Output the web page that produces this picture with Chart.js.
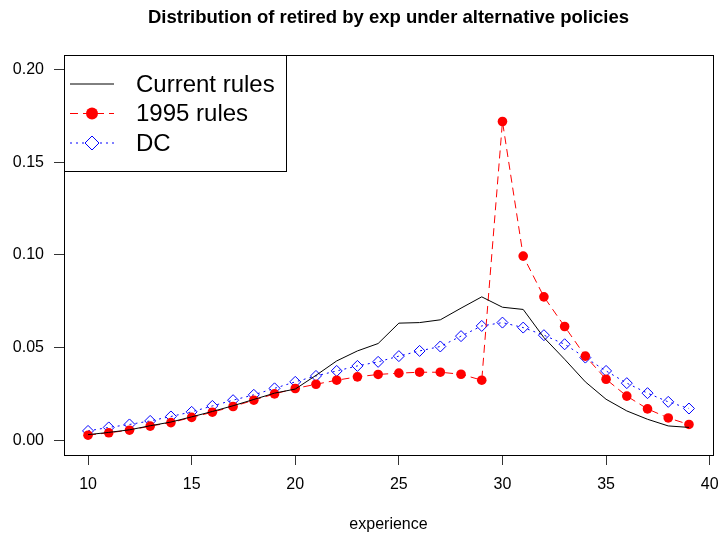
<!DOCTYPE html>
<html>
<head>
<meta charset="utf-8">
<title>Distribution of retired by exp under alternative policies</title>
<script src="https://cdn.jsdelivr.net/npm/chart.js@4.4.0/dist/chart.umd.min.js"></script>
<style>
  html, body { margin: 0; padding: 0; background: #fff; }
  canvas { display: block; }
</style>
</head>
<body>
<canvas id="chart" width="721" height="535"></canvas>
<script>
// values
const experience = [10, 11, 12, 13, 14, 15, 16, 17, 18, 19, 20, 21, 22, 23, 24,
                    25, 26, 27, 28, 29, 30, 31, 32, 33, 34, 35, 36, 37, 38, 39];
const currentRules = [0.0030, 0.0042, 0.0056, 0.0078, 0.0098, 0.0126, 0.0155, 0.0186, 0.0220, 0.0254,
                      0.0276, 0.0350, 0.0428, 0.0482, 0.0522, 0.0632, 0.0635, 0.0650, 0.0713, 0.0774,
                      0.0718, 0.0706, 0.0554, 0.0437, 0.0315, 0.0221, 0.0158, 0.0113, 0.0077, 0.0069];
const rules1995 = [0.0027, 0.0040, 0.0054, 0.0076, 0.0095, 0.0123, 0.0151, 0.0182, 0.0216, 0.0250,
                   0.0279, 0.0302, 0.0324, 0.0342, 0.0355, 0.0362, 0.0367, 0.0367, 0.0356, 0.0324,
                   0.1721, 0.0994, 0.0774, 0.0614, 0.0454, 0.0329, 0.0238, 0.0169, 0.0120, 0.0085];
const dcRules = [0.0050, 0.0069, 0.0085, 0.0104, 0.0128, 0.0153, 0.0185, 0.0216, 0.0245, 0.0280,
                 0.0315, 0.0347, 0.0374, 0.0401, 0.0423, 0.0454, 0.0482, 0.0506, 0.0562, 0.0617,
                 0.0635, 0.0608, 0.0567, 0.0518, 0.0446, 0.0374, 0.0308, 0.0254, 0.0207, 0.0171];
const xTicks = [10, 15, 20, 25, 30, 35, 40];
const yTicks = [0, 0.05, 0.10, 0.15, 0.20];
const seriesNames = ['Current rules', '1995 rules', 'DC'];
const chartTitle = 'Distribution of retired by exp under alternative policies';

const FONT = "'Liberation Sans', Arial, Helvetica, sans-serif";
Chart.defaults.font.family = FONT;
Chart.defaults.color = '#000';

function toPoints(values) {
    return values.map((v, i) => ({ x: experience[i], y: v }));
}

// R style: box round the plot, title on top, legend in the top left corner
const rPlotPlugin = {
    id: 'rPlot',
    afterDraw(chart) {
        const { ctx, chartArea } = chart;
        ctx.save();
        ctx.strokeStyle = '#000';
        ctx.lineWidth = 1;
        ctx.strokeRect(Math.round(chartArea.left) + 0.5, Math.round(chartArea.top) + 0.5,
            Math.round(chartArea.right - chartArea.left), Math.round(chartArea.bottom - chartArea.top));

        // title
        ctx.fillStyle = '#000';
        ctx.font = 'bold 18.5px ' + FONT;
        ctx.textAlign = 'center';
        ctx.textBaseline = 'middle';
        ctx.fillText(chartTitle, (chartArea.left + chartArea.right) / 2, 18);

        // legend box
        const lx = Math.round(chartArea.left) + 0.5, ly = Math.round(chartArea.top) + 0.5;
        const lw = 222, lh = 116;
        ctx.fillStyle = '#fff';
        ctx.fillRect(lx, ly, lw, lh);
        ctx.strokeRect(lx, ly, lw, lh);

        const rows = [84, 113.5, 143];
        chart.data.datasets.forEach((ds, i) => {
            const y = rows[i];
            ctx.save();
            ctx.strokeStyle = ds.borderColor;
            ctx.lineWidth = 1;
            ctx.setLineDash(ds.borderDash || []);
            ctx.beginPath();
            ctx.moveTo(70, y);
            ctx.lineTo(114, y);
            ctx.stroke();
            ctx.restore();
            if (ds.pointStyle === 'circle') {
                ctx.fillStyle = ds.pointBackgroundColor;
                ctx.beginPath();
                ctx.arc(92, y, 6, 0, Math.PI * 2);
                ctx.fill();
            } else if (ds.pointStyle === 'rectRot') {
                ctx.fillStyle = '#fff';
                ctx.strokeStyle = ds.pointBorderColor;
                ctx.beginPath();
                ctx.moveTo(92, y - 7);
                ctx.lineTo(99, y);
                ctx.lineTo(92, y + 7);
                ctx.lineTo(85, y);
                ctx.closePath();
                ctx.fill();
                ctx.stroke();
            }
            ctx.fillStyle = '#000';
            ctx.font = '24px ' + FONT;
            ctx.textAlign = 'left';
            ctx.textBaseline = 'middle';
            ctx.fillText(seriesNames[i], 136, y + 1);
        });
        ctx.restore();
    }
};

new Chart(document.getElementById('chart'), {
    type: 'line',
    data: {
        datasets: [
            {
                label: seriesNames[0],
                data: toPoints(currentRules),
                borderColor: '#000',
                borderWidth: 1,
                pointRadius: 0,
                tension: 0
            },
            {
                label: seriesNames[1],
                data: toPoints(rules1995),
                borderColor: '#ff0000',
                borderWidth: 1,
                borderDash: [8, 5],
                pointStyle: 'circle',
                pointRadius: 4.8,
                pointBackgroundColor: '#ff0000',
                pointBorderWidth: 0,
                tension: 0
            },
            {
                label: seriesNames[2],
                data: toPoints(dcRules),
                borderColor: '#0000ff',
                borderWidth: 1,
                borderDash: [2, 4],
                pointStyle: 'rectRot',
                pointRadius: 5.5,
                pointBackgroundColor: 'rgba(255,255,255,0)',
                pointBorderColor: '#0000ff',
                pointBorderWidth: 1,
                tension: 0
            }
        ]
    },
    options: {
        responsive: false,
        animation: false,
        layout: {
            padding: { top: 55, right: 8, left: 0, bottom: 0 }
        },
        plugins: {
            legend: { display: false },
            title: { display: false },
            tooltip: { enabled: false }
        },
        scales: {
            x: {
                type: 'linear',
                min: 8.84,
                max: 40.16,
                afterFit: s => { s.height = 80; s.paddingLeft = 0; s.paddingRight = 0; },
                afterBuildTicks: s => { s.ticks = xTicks.map(v => ({ value: v })); },
                ticks: {
                    font: { size: 16 },
                    padding: 10,
                    maxRotation: 0,
                    callback: v => String(v)
                },
                grid: {
                    drawOnChartArea: false,
                    drawTicks: true,
                    tickLength: 10,
                    color: '#333'
                },
                border: { display: true, color: '#000' },
                title: {
                    display: true,
                    text: 'experience',
                    font: { size: 16 },
                    padding: { top: 0, bottom: 1 }
                }
            },
            y: {
                type: 'linear',
                min: -0.008,
                max: 0.208,
                afterFit: s => { s.width = 64; s.paddingTop = 0; s.paddingBottom = 0; },
                afterBuildTicks: s => { s.ticks = yTicks.map(v => ({ value: v })); },
                ticks: {
                    font: { size: 16 },
                    padding: 10,
                    callback: v => v.toFixed(2)
                },
                grid: {
                    drawOnChartArea: false,
                    drawTicks: true,
                    tickLength: 10,
                    color: '#333'
                },
                border: { display: true, color: '#000' }
            }
        }
    },
    plugins: [rPlotPlugin]
});
</script>
</body>
</html>
